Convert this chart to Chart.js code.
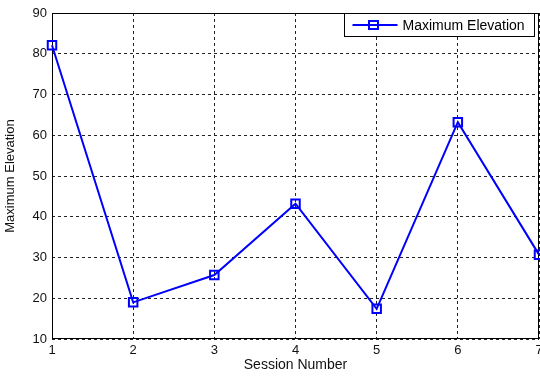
<!DOCTYPE html>
<html>
<head>
<meta charset="utf-8">
<script src="https://cdn.jsdelivr.net/npm/chart.js@4/dist/chart.umd.min.js"></script>
<style>
  html, body { margin: 0; padding: 0; background: #fff; overflow: hidden; }
  #wrap { width: 540px; height: 376px; position: relative; }
</style>
</head>
<body>
<div id="wrap"><canvas id="c" width="540" height="376"></canvas></div>
<script>
// Session data
const sessions = [1, 2, 3, 4, 5, 6, 7];
const maxElevation = [82.1, 19.0, 25.7, 43.2, 17.4, 63.2, 30.7];
const seriesName = 'Maximum Elevation';
const xTitle = 'Session Number';
const yTitle = 'Maximum Elevation';
const yMin = 10, yMax = 90, yStep = 10;
const xMin = 1, xMax = 7, xStep = 1;

const FONT = '"Liberation Sans", Arial, Helvetica, sans-serif';
const BLUE = '#0000ff';

// Solid black box around the plot area
const axesFrame = {
  id: 'axesFrame',
  beforeDatasetsDraw(chart) {
    const { ctx, chartArea: a } = chart;
    ctx.save();
    ctx.strokeStyle = '#000';
    ctx.lineWidth = 1;
    const l = Math.round(a.left) + 0.5, t = Math.round(a.top) + 0.5;
    const r = Math.round(a.right) - 0.5, b = Math.round(a.bottom) - 0.5;
    ctx.strokeRect(l, t, r - l, b - t);
    ctx.restore();
  }
};

// Boxed legend in the upper right corner of the plot
const boxedLegend = {
  id: 'boxedLegend',
  afterDraw(chart) {
    const { ctx, chartArea: a } = chart;
    const ds = chart.data.datasets[0];
    const w = 190, h = 23;
    const x0 = Math.round(a.right) - 5 - w + 0.5;
    const y0 = Math.round(a.top) + 0.5;
    const cy = y0 + h / 2;
    ctx.save();
    ctx.fillStyle = '#fff';
    ctx.fillRect(x0, y0, w, h);
    ctx.strokeStyle = '#000';
    ctx.lineWidth = 1;
    ctx.strokeRect(x0, y0, w, h);
    ctx.strokeStyle = ds.borderColor;
    ctx.lineWidth = 2;
    ctx.beginPath();
    ctx.moveTo(x0 + 8, cy);
    ctx.lineTo(x0 + 53, cy);
    ctx.stroke();
    ctx.strokeRect(x0 + 29 - 4.5, cy - 4, 9, 8);
    ctx.fillStyle = '#000';
    ctx.font = '14px ' + FONT;
    ctx.textBaseline = 'middle';
    ctx.textAlign = 'left';
    ctx.fillText(ds.label, x0 + 58, cy + 1);
    ctx.restore();
  }
};

new Chart(document.getElementById('c'), {
  type: 'line',
  data: {
    datasets: [{
      label: seriesName,
      data: sessions.map((s, i) => ({ x: s, y: maxElevation[i] })),
      borderColor: BLUE,
      borderWidth: 2,
      backgroundColor: 'transparent',
      pointStyle: 'rect',
      pointRadius: 6,
      pointBorderWidth: 2,
      pointBorderColor: BLUE,
      pointBackgroundColor: 'transparent',
      tension: 0,
      clip: false
    }]
  },
  options: {
    responsive: false,
    animation: false,
    events: [],
    layout: { autoPadding: false, padding: { top: 13, right: 1, bottom: 0, left: 0 } },
    plugins: {
      legend: { display: false },
      tooltip: { enabled: false }
    },
    scales: {
      x: {
        type: 'linear',
        min: xMin,
        max: xMax,
        afterFit(scale) {
          scale.height = 37;
          scale.paddingLeft = 0;
          scale.paddingRight = 0;
        },
        ticks: {
          stepSize: xStep,
          padding: 4,
          color: '#111',
          font: { family: FONT, size: 13 },
          maxRotation: 0
        },
        grid: { color: '#222', lineWidth: 1, drawTicks: false },
        border: { display: false, dash: [3, 3] },
        title: {
          display: true,
          text: xTitle,
          color: '#111',
          font: { family: FONT, size: 14 },
          padding: { top: 0, bottom: 2 }
        }
      },
      y: {
        type: 'linear',
        min: yMin,
        max: yMax,
        afterFit(scale) {
          scale.width = 52;
          scale.paddingTop = 0;
          scale.paddingBottom = 0;
        },
        ticks: {
          stepSize: yStep,
          padding: 5,
          color: '#111',
          font: { family: FONT, size: 13 }
        },
        grid: { color: '#222', lineWidth: 1, drawTicks: false },
        border: { display: false, dash: [3, 3] },
        title: {
          display: true,
          text: yTitle,
          color: '#111',
          font: { family: FONT, size: 13 },
          padding: { top: 3, bottom: 0 }
        }
      }
    }
  },
  plugins: [axesFrame, boxedLegend]
});
</script>
</body>
</html>
